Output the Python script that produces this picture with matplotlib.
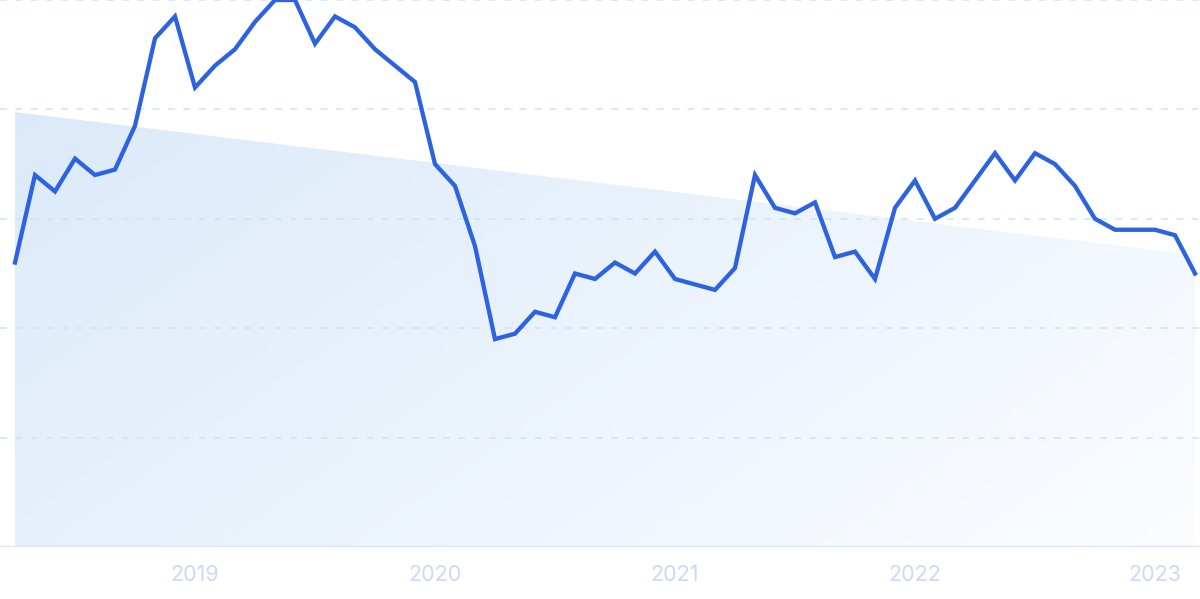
import numpy as np
import matplotlib.pyplot as plt
from matplotlib.patches import Polygon
from matplotlib.colors import LinearSegmentedColormap

# monthly interest, Apr 2018 .. Mar 2023
values = [52, 68, 65, 71, 68, 69, 77, 93, 97, 84, 88, 91,
          96, 100, 100, 92, 97, 95, 91, 88, 85, 70, 66, 55,
          38, 39, 43, 42, 50, 49, 52, 50, 54, 49, 48, 47,
          51, 68, 62, 61, 63, 53, 54, 49, 62, 67, 60, 62,
          67, 72, 67, 72, 70, 66, 60, 58, 58, 58, 57, 50]
year_labels = ['2019', '2020', '2021', '2022', '2023']
year_index = [9, 21, 33, 45, 57]  # January of each year
trend_start = 79.5
trend_end = 53.4
grid_levels = [20, 40, 60, 80, 100]

x = np.arange(len(values))

fig = plt.figure(figsize=(12, 5.99), dpi=100)
ax = fig.add_axes([0, 52 / 599, 1, 547 / 599])
ax.set_xlim(-0.75, len(values) - 1 + 0.25)
ax.set_ylim(0, 100)

# gradient area under trend line
cmap = LinearSegmentedColormap.from_list('g', ['#d9e8f9', '#fbfdff'])
gx, gy = np.meshgrid(np.linspace(0, 1, 200), np.linspace(0, 1, 200))
grad = gx * 0.6 + (1 - gy) * 0.4
img = ax.imshow(grad, cmap=cmap, extent=[0, len(values) - 1, 0, 100],
                origin='lower', aspect='auto', zorder=0)
poly = Polygon([[0, trend_start], [len(values) - 1, trend_end],
                [len(values) - 1, 0], [0, 0]], closed=True,
               facecolor='none', edgecolor='none')
ax.add_patch(poly)
img.set_clip_path(poly)

for g in grid_levels:
    ax.axhline(g, color='#cce3fb', lw=1.1, ls=(0, (4.5, 5.5)), zorder=1)
ax.axhline(0, color='#d3e5fa', lw=1.6, zorder=1)

ax.plot(x, values, color='#2d62e1', lw=3.1, solid_joinstyle='miter',
        zorder=3, clip_on=False)

ax.set_xticks(year_index)
ax.set_xticklabels(year_labels)
ax.tick_params(axis='x', length=0, pad=13, labelsize=15.5, labelcolor='#cdd8f4')
for t in ax.get_xticklabels():
    t.set_family(['Inter', 'DejaVu Sans'])
ax.set_yticks([])
for s in ax.spines.values():
    s.set_visible(False)

fig.savefig('out.png', dpi=100)
